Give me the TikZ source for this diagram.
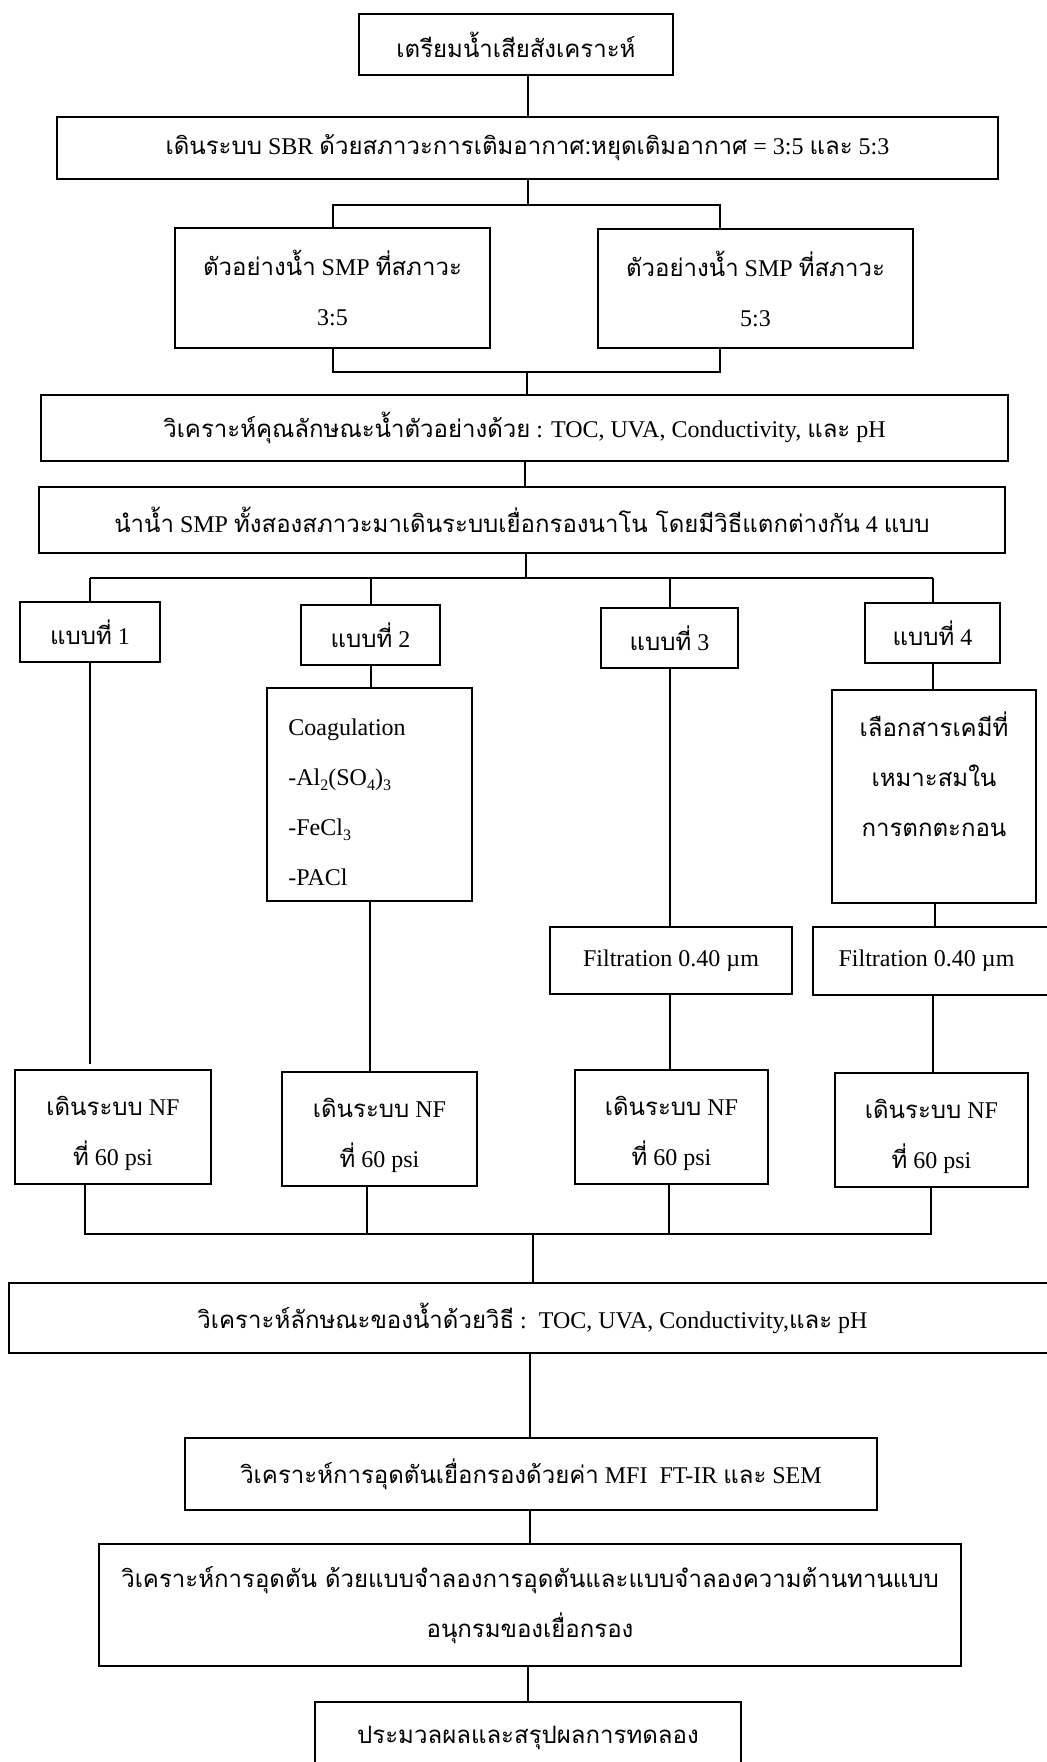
\documentclass[tikz,border=0pt]{standalone}
\usepackage{fontspec}
\setmainfont{Liberation Serif}
\newfontfamily\thaifont[Script=Thai]{Loma}
\newcommand{\thaitxt}[1]{{\thaifont #1}}
\newcommand{\subs}[1]{\raisebox{-0.5ex}{\fontsize{8pt}{8pt}\selectfont #1}}
\begin{document}
\begin{tikzpicture}[x=0.5pt,y=-0.5pt,
  box/.style={draw, line width=1pt, inner sep=0pt, align=center, font=\fontsize{12pt}{25pt}\selectfont},
  conn/.style={line width=1pt},
  lbl/.style={inner sep=0pt, align=center, font=\fontsize{12pt}{25pt}\selectfont}]
\useasboundingbox[fill=white] (0,0) rectangle (1046,1762);

% boxes
\node[box, minimum width=157pt, minimum height=30.5pt] (top) at (516,44.5) {\thaitxt{เตรียมน้ำเสียสังเคราะห์}};
\node[box, minimum width=470.5pt, minimum height=31pt] (sbr) at (527.5,148) {\thaitxt{เดินระบบ} SBR \thaitxt{ด้วยสภาวะการเติมอากาศ:หยุดเติมอากาศ} = 3:5 \thaitxt{และ} 5:3};
\node[box, minimum width=157.5pt, minimum height=60pt] (smpL) at (332.5,288) {\thaitxt{ตัวอย่างน้ำ} SMP \thaitxt{ที่สภาวะ}\\3:5};
\node[box, minimum width=157.5pt, minimum height=59.5pt] (smpR) at (755.5,288.5) {\thaitxt{ตัวอย่างน้ำ} SMP \thaitxt{ที่สภาวะ}\\5:3};
\node[box, minimum width=483.5pt, minimum height=33pt] (an1) at (524.5,428) {\thaitxt{วิเคราะห์คุณลักษณะน้ำตัวอย่างด้วย} : TOC, UVA, Conductivity, \thaitxt{และ} pH};
\node[box, minimum width=483pt, minimum height=33pt] (nano) at (522,520) {\thaitxt{นำน้ำ} SMP \thaitxt{ทั้งสองสภาวะมาเดินระบบเยื่อกรองนาโน โดยมีวิธีแตกต่างกัน} 4 \thaitxt{แบบ}};

\node[box, minimum width=70pt, minimum height=30pt] (m1) at (90,632) {\thaitxt{แบบที่} 1};
\node[box, minimum width=69.5pt, minimum height=30pt] (m2) at (370.5,635) {\thaitxt{แบบที่} 2};
\node[box, minimum width=68.5pt, minimum height=30pt] (m3) at (669.5,638) {\thaitxt{แบบที่} 3};
\node[box, minimum width=67.5pt, minimum height=30pt] (m4) at (932.5,633) {\thaitxt{แบบที่} 4};

\node[box, minimum width=102.5pt, minimum height=106.5pt] (coag) at (369.5,794.5) {};
\node[lbl, anchor=west, align=left] (coagt) at (288,802) {Coagulation\\-Al\subs{2}(SO\subs{4})\subs{3}\\-FeCl\subs{3}\\-PACl};

\node[box, minimum width=102pt, minimum height=106.5pt] (chem) at (934,796.5) {};
\node[lbl] (chemt) at (934,774) {\thaitxt{เลือกสารเคมีที่}\\\thaitxt{เหมาะสมใน}\\\thaitxt{การตกตะกอน}};

\node[box, minimum width=121pt, minimum height=33.5pt] (filt3) at (671,960.5) {Filtration 0.40 µm};
\node[box, minimum width=121.5pt, minimum height=34pt] (filt4) at (934.5,961) {Filtration 0.40 µm\hspace*{8pt}};

\node[box, minimum width=98pt, minimum height=57pt] (nf1) at (113,1127) {};
\node[box, minimum width=97.5pt, minimum height=57pt] (nf2) at (379.5,1129) {};
\node[box, minimum width=96.5pt, minimum height=57pt] (nf3) at (671.5,1127) {};
\node[box, minimum width=96.5pt, minimum height=57pt] (nf4) at (931.5,1130) {};
\foreach \n in {1,2,3,4}{
  \node[lbl] (nf\n t) at ([yshift=-3pt]nf\n.center) {\thaitxt{เดินระบบ} NF\\\thaitxt{ที่} 60 psi};
}

\node[box, minimum width=523.5pt, minimum height=35pt] (an2) at (532.5,1318) {\thaitxt{วิเคราะห์ลักษณะของน้ำด้วยวิธี} :\ \ TOC, UVA, Conductivity,\thaitxt{และ} pH};
\node[box, minimum width=346pt, minimum height=36pt] (mfi) at (531,1474) {\thaitxt{วิเคราะห์การอุดตันเยื่อกรองด้วยค่า} MFI\ \ FT-IR \thaitxt{และ} SEM};
\node[box, minimum width=431pt, minimum height=61pt] (model) at (530,1605) {\thaitxt{วิเคราะห์การอุดตัน ด้วยแบบจำลองการอุดตันและแบบจำลองความต้านทานแบบ}\\\thaitxt{อนุกรมของเยื่อกรอง}};
\node[box, minimum width=213pt, minimum height=36pt] (final) at (528,1738) {\thaitxt{ประมวลผลและสรุปผลการทดลอง}};

% connectors
\coordinate (j0) at (528,0);
\draw[conn] (top.south -| j0) -- (sbr.north -| j0);
\coordinate (sa) at (528,205); \coordinate (saL) at (333,205); \coordinate (saR) at (720,205);
\draw[conn] (sbr.south -| sa) -- (sa);
\draw[conn] (saL |- smpL.north) -- (saL) -- (saR) -- (saR |- smpR.north);
\coordinate (sb) at (527,372); \coordinate (sbL) at (333,372); \coordinate (sbR) at (720,372);
\draw[conn] (sbL |- smpL.south) -- (sbL) -- (sbR) -- (sbR |- smpR.south);
\draw[conn] (sb) -- (sb |- an1.north);
\coordinate (j1) at (525,0);
\draw[conn] (an1.south -| j1) -- (nano.north -| j1);
\coordinate (sc) at (526,578);
\coordinate (sc1) at (90,578); \coordinate (sc2) at (371,578);
\coordinate (sc3) at (670,578); \coordinate (sc4) at (933,578);
\draw[conn] (nano.south -| sc) -- (sc);
\draw[conn] (sc1) -- (sc4);
\draw[conn] (sc1) -- (sc1 |- m1.north);
\draw[conn] (sc2) -- (sc2 |- m2.north);
\draw[conn] (sc3) -- (sc3 |- m3.north);
\draw[conn] (sc4) -- (sc4 |- m4.north);
% branch 1
\coordinate (e1) at (90,1064);
\draw[conn] (m1.south -| e1) -- (e1);
% branch 2
\draw[conn] (m2.south -| sc2) -- (coag.north -| sc2);
\coordinate (x2) at (370,0);
\draw[conn] (coag.south -| x2) -- (nf2.north -| x2);
% branch 3
\draw[conn] (m3.south -| sc3) -- (filt3.north -| sc3);
\draw[conn] (filt3.south -| sc3) -- (nf3.north -| sc3);
% branch 4
\draw[conn] (m4.south -| sc4) -- (chem.north -| sc4);
\coordinate (x4) at (935,0);
\draw[conn] (chem.south -| x4) -- (filt4.north -| x4);
\draw[conn] (filt4.south -| sc4) -- (nf4.north -| sc4);
% merge
\coordinate (sd) at (533,1234);
\coordinate (sd1) at (85,1234); \coordinate (sd2) at (367,1234);
\coordinate (sd3) at (669,1234); \coordinate (sd4) at (931,1234);
\draw[conn] (nf1.south -| sd1) -- (sd1) -- (sd4) -- (nf4.south -| sd4);
\draw[conn] (nf2.south -| sd2) -- (sd2);
\draw[conn] (nf3.south -| sd3) -- (sd3);
\draw[conn] (sd) -- (an2.north -| sd);
\coordinate (j2) at (530,0);
\draw[conn] (an2.south -| j2) -- (mfi.north -| j2);
\draw[conn] (mfi.south -| j2) -- (model.north -| j2);
\coordinate (j3) at (528,0);
\draw[conn] (model.south -| j3) -- (final.north -| j3);
\end{tikzpicture}
\end{document}
